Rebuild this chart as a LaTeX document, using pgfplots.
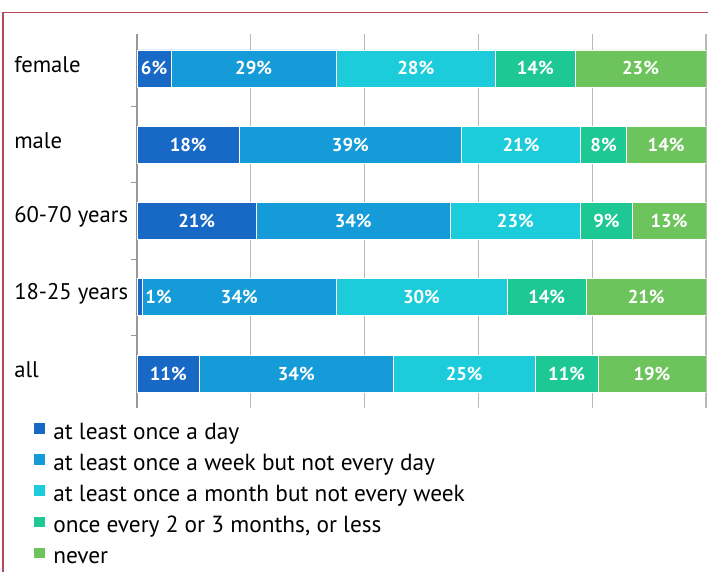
\documentclass[border=0pt]{standalone}
\usepackage{fontspec}
\setmainfont{PT Sans}
\usepackage{pgfplots}
\pgfplotsset{compat=1.18}
\definecolor{cA}{RGB}{24,104,198}
\definecolor{cB}{RGB}{20,155,216}
\definecolor{cC}{RGB}{28,204,218}
\definecolor{cD}{RGB}{30,200,148}
\definecolor{cE}{RGB}{110,196,92}
\definecolor{frame}{RGB}{178,74,96}
\begin{document}
\begin{tikzpicture}
\path[use as bounding box] (0,0) rectangle (531pt,429pt);
\pgfplotsset{common/.style={
  at={(102.75pt,123pt)}, anchor=south west,
  width=426.75pt, height=280.5pt, scale only axis,
  xmin=0, xmax=100, ymin=-0.45, ymax=4.45, y dir=reverse}}
\begin{axis}[common,
  xbar stacked, bar width=27.75pt,
  axis lines*=left,
  x axis line style={draw=none}, y axis line style={draw=none},
  xtick={20,40,60,80,100}, xticklabels={}, xmajorgrids,
  grid style={black!28, line width=0.8pt},
  major x tick style={draw=none},
  extra x ticks={0}, extra x tick labels={},
  extra x tick style={grid style={black!40, line width=1.3pt}, major tick length=0pt},
  ytick={0,1,2,3,4}, yticklabels={female,male,60-70 years,18-25 years,all},
  minor ytick={0.5,1.5,2.5,3.5},
  tick align=outside, major tick length=0pt, minor tick length=4.5pt,
  minor y tick style={black!40, line width=0.8pt},
  yticklabel style={anchor=west, inner sep=0pt, xshift=-92.25pt, yshift=3pt,
    font=\fontsize{17}{20}\selectfont},
  legend image code/.code={\fill[#1] (0pt,0pt) rectangle (8.5pt,8.5pt);},
  legend cell align=left,
  legend style={at={(axis description cs:-0.1828,-0.0375)}, anchor=north west,
    draw=none, fill=none, inner sep=0pt, row sep=6.8pt,
    font=\fontsize{17.5}{20}\selectfont,
    nodes={inner sep=0pt, text height=12pt, text depth=3.5pt},
    /tikz/every odd column/.append style={column sep=6pt}},
]
\addplot[fill=cA, draw=white, line width=0.5pt] coordinates {(6,0) (18,1) (21,2) (1,3) (11,4)};
\addlegendentry{at least once a day}
\addplot[fill=cB, draw=white, line width=0.5pt] coordinates {(29,0) (39,1) (34,2) (34,3) (34,4)};
\addlegendentry{at least once a week but not every day}
\addplot[fill=cC, draw=white, line width=0.5pt] coordinates {(28,0) (21,1) (23,2) (30,3) (25,4)};
\addlegendentry{at least once a month but not every week}
\addplot[fill=cD, draw=white, line width=0.5pt] coordinates {(14,0) (8,1) (9,2) (14,3) (11,4)};
\addlegendentry{once every 2 or 3 months, or less}
\addplot[fill=cE, draw=white, line width=0.5pt] coordinates {(23,0) (14,1) (13,2) (21,3) (19,4)};
\addlegendentry{never}
\end{axis}
\begin{axis}[common, hide axis]
\addplot[draw=none, mark=none, nodes near coords, point meta=explicit symbolic,
  every node near coord/.style={anchor=center, text=white,
    font=\fontsize{14}{16}\selectfont\bfseries}]
  table[meta=label] {
x y label
3 0 6\%
20.5 0 29\%
49 0 28\%
70 0 14\%
88.5 0 23\%
9 1 18\%
37.5 1 39\%
67.5 1 21\%
82 1 8\%
93 1 14\%
10.5 2 21\%
38 2 34\%
66.5 2 23\%
82.5 2 9\%
93.5 2 13\%
3.8 3 1\%
18 3 34\%
50 3 30\%
72 3 14\%
89.5 3 21\%
5.5 4 11\%
28 4 34\%
57.5 4 25\%
75.5 4 11\%
90.5 4 19\%
};
\end{axis}
\draw[frame, line width=0.9pt] (2.25pt,0pt) -- (2.25pt,419.6pt) -- (531pt,419.6pt);
\end{tikzpicture}
\end{document}
